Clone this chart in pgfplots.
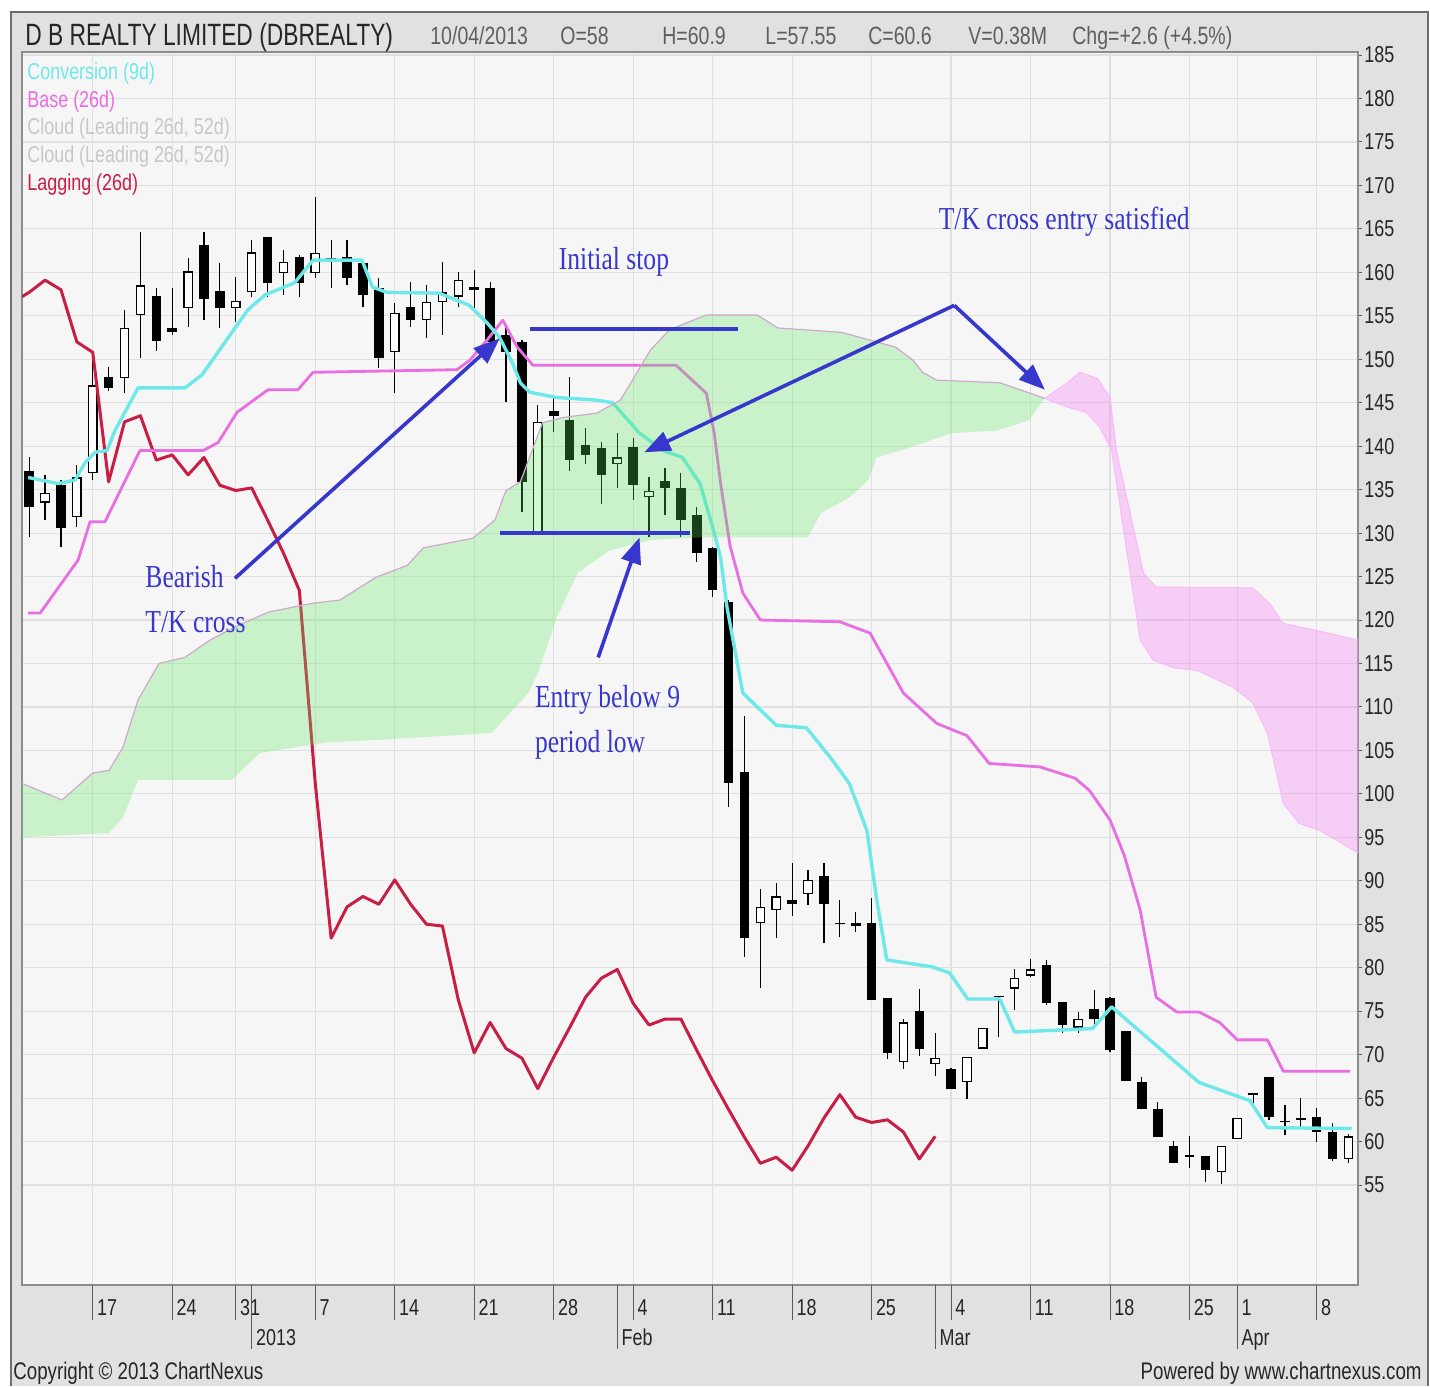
\documentclass[border=0pt]{standalone}
\usepackage{fontspec}
\setmainfont{Liberation Sans}[FakeStretch=0.78]
\newfontfamily\titlefont{Liberation Sans}[FakeStretch=0.74]
\newfontfamily\annfont{Liberation Serif}[FakeStretch=0.8]
\usepackage{pgfplots}
\pgfplotsset{compat=1.18}
\usetikzlibrary{arrows.meta}

\definecolor{panel}{RGB}{225,225,225}
\definecolor{panelline}{RGB}{110,110,110}
\definecolor{plotbg}{RGB}{246,246,246}
\definecolor{gridc}{RGB}{224,224,224}
\definecolor{tickc}{RGB}{90,90,90}
\definecolor{tenkan}{RGB}{110,232,232}
\definecolor{kijun}{RGB}{232,110,225}
\definecolor{lagc}{RGB}{200,30,70}
\definecolor{cloudg}{RGB}{90,235,90}
\definecolor{cloudp}{RGB}{245,100,245}
\definecolor{cloudedge}{RGB}{205,170,205}
\definecolor{annblue}{RGB}{55,55,205}
\definecolor{hdrgray}{RGB}{95,95,95}

\newcommand{\tf}{\fontsize{11.5}{13}\selectfont}

\begin{document}
\begin{tikzpicture}
\fill[white] (-11pt,-50.5pt) rectangle (704pt,642.5pt);
\fill[panel] (-5.5pt,-50.5pt) rectangle (703pt,636.5pt);
\draw[panelline, line width=1pt] (-5.5pt,-50.5pt) -- (-5.5pt,636.5pt) -- (703pt,636.5pt) -- (703pt,-50.5pt);

\begin{axis}[
  at={(0pt,0pt)}, anchor=south west,
  scale only axis, width=668pt, height=616.5pt,
  xmin=-4.45, xmax=79.6, ymin=43.5, ymax=185.35,
  axis background/.style={fill=plotbg},
  axis line style={draw=black!45, line width=0.8pt},
  xtick={0,5,9,14,19,24,29,34,39,44,49,54,59,64,69,72,77},
  xticklabels={},
  ytick={55,60,...,185},
  xtick pos=left, ytick pos=right,
  yticklabel pos=right,
  yticklabel style={font=\tf, text=black!85, inner sep=1pt},
  /pgf/number format/assume math mode=true,
  tick align=outside, major tick length=2pt,
  tick style={draw=tickc, line width=0.5pt},
  grid=major, grid style={draw=gridc, line width=0.6pt},
  clip mode=individual,
  unbounded coords=jump,
  after end axis/.code={
    \foreach \p/\l in {0/17,5/24,9/31,14/7,19/14,24/21,29/28,34/4,39/11,44/18,49/25,54/4,59/11,64/18,69/25,72/1,77/8}{
      \draw[tickc, line width=0.5pt] (axis cs:\p,43.5) -- ++(0pt,-17.5pt);
      \node[anchor=base west, inner sep=0pt, font=\tf, text=black!85] at ([xshift=2pt,yshift=-15pt]axis cs:\p,43.5) {\l};
    }
    \foreach \p/\l in {10/2013,33/Feb,53/Mar,72/Apr}{
      \draw[tickc, line width=0.5pt] (axis cs:\p,43.5) -- ++(0pt,-32pt);
      \node[anchor=base west, inner sep=0pt, font=\tf, text=black!85] at ([xshift=2pt,yshift=-30pt]axis cs:\p,43.5) {\l};
    }
  },
]

% wicks (low, high)
\addplot[black, line width=0.6pt] coordinates {
(-4,129.5)(-4,138.7)(-4,nan) (-3,131.5)(-3,136.7)(-3,nan) (-2,128.4)(-2,136.1)(-2,nan) (-1,130.7)(-1,137.8)(-1,nan)
(0,136.1)(0,150.1)(0,nan) (1,146.4)(1,149.1)(1,nan) (2,146.1)(2,155.7)(2,nan) (3,150.1)(3,164.6)(3,nan)
(4,151.0)(4,158.2)(4,nan) (5,152.8)(5,158.2)(5,nan) (6,153.7)(6,161.6)(6,nan) (7,154.5)(7,164.6)(7,nan)
(8,153.6)(8,161.1)(8,nan) (9,154.3)(9,159.5)(9,nan) (10,157.2)(10,163.7)(10,nan) (11,157.2)(11,164.1)(11,nan)
(12,157.4)(12,162.6)(12,nan) (13,157.2)(13,162.0)(13,nan) (14,159.3)(14,168.7)(14,nan) (15,158.2)(15,163.7)(15,nan)
(16,158.5)(16,163.7)(16,nan) (17,156.0)(17,161.1)(17,nan) (18,149.0)(18,159.3)(18,nan) (19,146.1)(19,156.5)(19,nan)
(20,153.7)(20,158.9)(20,nan) (21,152.5)(21,158.5)(21,nan) (22,152.8)(22,161.2)(22,nan) (23,156.0)(23,160.0)(23,nan)
(24,155.9)(24,160.3)(24,nan) (25,150.7)(25,158.9)(25,nan) (26,145.1)(26,153.9)(26,nan) (27,132.4)(27,152.2)(27,nan)
(28,130.0)(28,144.7)(28,nan) (29,141.6)(29,145.5)(29,nan) (30,137.2)(30,148.0)(30,nan) (31,138.0)(31,142.1)(31,nan)
(32,133.4)(32,140.5)(32,nan) (33,135.2)(33,141.5)(33,nan) (34,133.8)(34,140.9)(34,nan) (35,129.5)(35,136.4)(35,nan)
(36,132.1)(36,137.5)(36,nan) (37,129.5)(37,136.9)(37,nan) (38,126.7)(38,133.0)(38,nan) (39,122.6)(39,128.4)(39,nan)
(40,98.5)(40,122.3)(40,nan) (41,81.2)(41,109.0)(41,nan) (42,77.7)(42,89.1)(42,nan) (43,83.4)(43,89.8)(43,nan)
(44,86.0)(44,92.1)(44,nan) (45,87.2)(45,91.2)(45,nan) (46,82.8)(46,92.1)(46,nan) (47,83.5)(47,87.8)(47,nan)
(48,84.1)(48,86.4)(48,nan) (49,76.3)(49,88.0)(49,nan) (50,69.5)(50,76.5)(50,nan) (51,68.3)(51,74.1)(51,nan)
(52,69.9)(52,77.5)(52,nan) (53,67.5)(53,72.5)(53,nan) (54,66.0)(54,68.5)(54,nan) (55,64.9)(55,69.7)(55,nan)
(56,70.7)(56,73.1)(56,nan) (57,72.0)(57,76.8)(57,nan) (58,75.1)(58,79.9)(58,nan) (59,78.9)(59,81.0)(59,nan)
(60,75.7)(60,80.9)(60,nan) (61,72.5)(61,76.0)(61,nan) (62,72.5)(62,74.9)(62,nan) (63,73.4)(63,77.4)(63,nan)
(64,70.3)(64,76.6)(64,nan) (65,67.0)(65,72.7)(65,nan) (66,63.7)(66,67.4)(66,nan) (67,60.5)(67,64.6)(67,nan)
(68,57.5)(68,60.1)(68,nan) (69,57.0)(69,60.6)(69,nan) (70,55.3)(70,58.3)(70,nan) (71,55.1)(71,59.5)(71,nan)
(72,60.3)(72,62.7)(72,nan) (73,63.9)(73,65.6)(73,nan) (74,62.5)(74,67.4)(74,nan) (75,60.7)(75,64.2)(75,nan)
(76,61.7)(76,65.0)(76,nan) (77,60.0)(77,63.9)(77,nan) (78,57.8)(78,62.1)(78,nan) (79,57.55)(79,60.9)
};

% falling candles (open, close)
\addplot[black, line width=4.8pt] coordinates {
(-4,137.2)(-4,133.0)(-4,nan) (-2,135.5)(-2,130.6)(-2,nan) (1,148.0)(1,146.7)(1,nan) (4,157.3)(4,152.1)(4,nan)
(5,153.6)(5,153.1)(5,nan) (7,163.1)(7,156.9)(7,nan) (8,157.8)(8,155.9)(8,nan) (11,164.1)(11,158.8)(11,nan)
(13,161.8)(13,158.8)(13,nan) (16,161.8)(16,159.3)(16,nan) (17,161.1)(17,157.4)(17,nan) (18,158.2)(18,150.1)(18,nan)
(20,156.0)(20,154.5)(20,nan) (24,158.3)(24,158.0)(24,nan) (25,158.2)(25,152.0)(25,nan) (26,152.8)(26,150.8)(26,nan)
(27,152.0)(27,135.9)(27,nan) (29,144.1)(29,143.5)(29,nan) (30,143.0)(30,138.4)(30,nan) (31,140.1)(31,139.0)(31,nan)
(32,139.8)(32,136.7)(32,nan) (34,139.9)(34,135.5)(34,nan) (36,136.0)(36,135.2)(36,nan) (37,135.2)(37,131.5)(37,nan)
(38,132.1)(38,127.7)(38,nan) (39,128.3)(39,123.4)(39,nan) (40,122.1)(40,101.2)(40,nan) (41,102.5)(41,83.4)(41,nan)
(44,87.8)(44,87.3)(44,nan) (46,90.6)(46,87.3)(46,nan) (47,85.2)(47,85.0)(47,nan) (48,85.1)(48,84.8)(48,nan)
(49,85.1)(49,76.3)(49,nan) (50,76.5)(50,70.2)(50,nan) (52,75.0)(52,70.7)(52,nan) (54,68.3)(54,66.1)(54,nan)
(57,76.8)(57,76.6)(57,nan) (60,80.3)(60,75.9)(60,nan) (61,76.0)(61,73.4)(61,nan) (63,75.2)(63,74.1)(63,nan)
(64,76.5)(64,70.5)(64,nan) (65,72.7)(65,67.0)(65,nan) (66,66.8)(66,63.7)(66,nan) (67,63.8)(67,60.5)(67,nan)
(68,59.5)(68,57.5)(68,nan) (69,58.4)(69,58.2)(69,nan) (70,58.3)(70,56.7)(70,nan) (73,65.6)(73,65.4)(73,nan)
(74,67.4)(74,62.8)(74,nan) (75,62.4)(75,62.2)(75,nan) (76,62.7)(76,62.5)(76,nan) (77,62.8)(77,61.1)(77,nan)
(78,61.1)(78,58.0)
};

% rising candles: outline (open, close)
\addplot[black, line width=4.8pt] coordinates {
(-3,133.5)(-3,134.6)(-3,nan) (-1,131.8)(-1,136.4)(-1,nan) (0,136.9)(0,147.0)(0,nan) (2,147.8)(2,153.6)(2,nan)
(3,155.1)(3,158.5)(3,nan) (6,155.9)(6,160.1)(6,nan) (9,155.9)(9,156.7)(9,nan) (10,157.7)(10,162.3)(10,nan)
(12,159.9)(12,161.2)(12,nan) (14,159.9)(14,162.2)(14,nan) (15,161.2)(15,161.7)(15,nan) (19,150.8)(19,155.3)(19,nan)
(21,154.5)(21,156.6)(21,nan) (22,156.6)(22,157.7)(22,nan) (23,157.2)(23,159.1)(23,nan) (28,130.1)(28,142.8)(28,nan)
(33,137.9)(33,138.7)(33,nan) (35,134.1)(35,134.9)(35,nan) (42,85.1)(42,87.0)(42,nan) (43,86.6)(43,88.2)(43,nan)
(45,88.5)(45,90.1)(45,nan) (51,69.1)(51,73.7)(51,nan) (53,68.9)(53,69.6)(53,nan) (55,66.8)(55,69.7)(55,nan)
(56,70.7)(56,73.1)(56,nan) (58,77.6)(58,78.8)(58,nan) (59,79.1)(59,79.8)(59,nan) (62,73.1)(62,74.1)(62,nan)
(71,56.5)(71,59.5)(71,nan) (72,60.3)(72,62.7)(72,nan) (79,58.0)(79,60.6)
};
% rising candles: hollow inside
\addplot[white, line width=3.6pt] coordinates {
(-3,133.64)(-3,134.46)(-3,nan) (-1,131.94)(-1,136.26)(-1,nan) (0,137.04)(0,146.86)(0,nan) (2,147.94)(2,153.46)(2,nan)
(3,155.24)(3,158.36)(3,nan) (6,156.04)(6,159.96)(6,nan) (9,156.04)(9,156.56)(9,nan) (10,157.84)(10,162.16)(10,nan)
(12,160.04)(12,161.06)(12,nan) (14,160.04)(14,162.06)(14,nan) (15,161.34)(15,161.56)(15,nan) (19,150.94)(19,155.16)(19,nan)
(21,154.64)(21,156.46)(21,nan) (22,156.74)(22,157.56)(22,nan) (23,157.34)(23,158.96)(23,nan) (28,130.24)(28,142.66)(28,nan)
(33,138.04)(33,138.56)(33,nan) (35,134.24)(35,134.76)(35,nan) (42,85.24)(42,86.86)(42,nan) (43,86.74)(43,88.06)(43,nan)
(45,88.64)(45,89.96)(45,nan) (51,69.24)(51,73.56)(51,nan) (53,69.04)(53,69.46)(53,nan) (55,66.94)(55,69.56)(55,nan)
(56,70.84)(56,72.96)(56,nan) (58,77.74)(58,78.66)(58,nan) (59,79.24)(59,79.66)(59,nan) (62,73.24)(62,73.96)(62,nan)
(71,56.64)(71,59.36)(71,nan) (72,60.44)(72,62.56)(72,nan) (79,58.14)(79,60.46)
};

% lagging (26d)
\addplot[lagc, line width=1.5pt, line join=round] coordinates {
(-4.45,157.2)(-4,157.7)(-3,159.1)(-2,158.0)(-1,152.0)(0,150.8)(1,135.9)(2,142.8)(3,143.5)(4,138.4)(5,139.0)
(6,136.7)(7,138.7)(8,135.5)(9,134.9)(10,135.2)(11,131.5)(12,127.7)(13,123.4)(14,101.2)(15,83.4)(16,87.0)
(17,88.2)(18,87.3)(19,90.1)(20,87.3)(21,85.0)(22,84.8)(23,76.3)(24,70.2)(25,73.7)(26,70.7)(27,69.6)(28,66.1)
(29,69.7)(30,73.1)(31,76.6)(32,78.8)(33,79.8)(34,75.9)(35,73.4)(36,74.1)(37,74.1)(38,70.5)(39,67.0)(40,63.7)
(41,60.5)(42,57.5)(43,58.2)(44,56.7)(45,59.5)(46,62.7)(47,65.4)(48,62.8)(49,62.2)(50,62.5)(51,61.1)(52,58.0)(53,60.6)
};

% base (26d)
\addplot[kijun, line width=1.4pt, line join=round] coordinates {
(-4.07,120.8)(-3.31,120.8)(-0.92,126.9)(-0.17,131.3)(0.77,131.3)(2.97,139.5)(6.94,139.5)(7.88,140.4)(9.08,143.9)
(11.03,146.5)(12.91,146.5)(13.86,148.5)(22.91,148.8)(23.73,149.9)(24.8,152.2)(25.8,154.5)(26.7,151.4)(27.7,149.3)
(36.7,149.3)(38.6,146.1)(39.1,141.5)(39.5,135.7)(40.1,128.5)(40.9,123.1)(42.0,120.0)(47.0,119.8)(48.9,118.5)
(51.0,111.6)(53.1,108.1)(55.0,106.7)(56.4,103.5)(59.6,103.1)(61.8,101.8)(62.7,100.4)(64.0,97.0)(64.9,92.9)
(65.9,86.6)(66.9,76.6)(68.2,74.9)(69.6,74.9)(70.9,73.7)(72.0,71.7)(73.9,71.7)(74.9,68.1)(79.1,68.1)
};

% conversion (9d)
\addplot[tenkan, line width=1.7pt, line join=round] coordinates {
(-4.07,136.4)(-2.18,135.7)(-1.11,136.1)(-0.48,138.1)(0.14,139.3)(0.90,139.5)(1.40,141.8)(2.85,146.7)(5.8,146.7)
(6.87,148.2)(9.77,155.7)(10.84,157.4)(12.7,158.8)(13.86,161.4)(16.94,161.4)(17.6,158.3)(18.5,157.7)(21.8,157.6)
(23.7,156.2)(24.8,154.2)(25.6,152.5)(26.4,149.6)(26.9,147.3)(27.5,146.2)(29.2,145.6)(31.7,145.3)(32.7,145.0)
(34.4,141.5)(35.9,139.5)(37.1,138.7)(38.2,135.7)(39.0,130.7)(39.5,127.2)(39.9,121.5)(40.9,111.6)(43.0,107.9)
(44.9,107.6)(46.4,104.2)(47.6,101.2)(48.7,95.8)(49.3,88.1)(49.95,80.9)(52.8,80.1)(53.9,79.4)(55.05,76.4)
(57.06,76.4)(58.0,72.6)(62.9,73.0)(64.1,75.5)(66.5,71.7)(69.6,66.8)(72.8,64.7)(73.9,61.6)(79.2,61.5)
};

% cloud, green part (leading span A above span B)
\addplot[fill=cloudg, fill opacity=0.28, draw=none] coordinates {
(-4.45,101.2)(-1.93,99.3)(0,102.4)(1.03,102.7)(1.91,105.4)(2.85,110.8)(4.17,115.0)(5.8,115.7)(7.38,117.7)
(8.95,119.2)(11.03,120.9)(13.73,121.9)(15.55,122.3)(17.8,124.9)(19.8,126.3)(20.8,128.3)(23.9,129.4)(25.3,131.5)
(26.0,134.9)(26.9,135.9)(28.3,142.7)(29.6,143.3)(31.7,143.8)(33.2,145.3)(35.1,151.1)(36.3,153.4)(38.6,155.1)
(41.8,155.1)(43.1,153.6)(47.1,153.1)(50.5,151.4)(51.6,149.9)(52.2,148.5)(53.1,147.6)(57.06,147.3)(59.9,145.5)
(58.9,143.0)(56.9,141.8)(54.0,141.5)(51.5,139.9)(49.3,138.7)(48.8,136.1)(47.6,134.1)(45.8,132.3)(45.0,129.5)
(38.2,129.5)(35.05,129.2)(32.5,128.0)(30.5,125.4)(29.2,120.3)(28.0,113.9)(27.4,111.6)(25.1,107.0)(17.8,106.2)
(14.6,105.9)(10.52,104.7)(8.76,101.6)(2.85,101.6)(1.91,97.3)(1.03,95.5)(-4.45,95.0)
};
\addplot[cloudedge, line width=0.6pt] coordinates {
(-4.45,101.2)(-1.93,99.3)(0,102.4)(1.03,102.7)(1.91,105.4)(2.85,110.8)(4.17,115.0)(5.8,115.7)(7.38,117.7)
(8.95,119.2)(11.03,120.9)(13.73,121.9)(15.55,122.3)(17.8,124.9)(19.8,126.3)(20.8,128.3)(23.9,129.4)(25.3,131.5)
(26.0,134.9)(26.9,135.9)(28.3,142.7)(29.6,143.3)(31.7,143.8)(33.2,145.3)(35.1,151.1)(36.3,153.4)(38.6,155.1)
(41.8,155.1)(43.1,153.6)(47.1,153.1)(50.5,151.4)(51.6,149.9)(52.2,148.5)(53.1,147.6)(57.06,147.3)(59.9,145.5)
};
% cloud, pink part (span B above span A)
\addplot[fill=cloudp, fill opacity=0.28, draw=cloudp!45, line width=0.5pt] coordinates {
(59.9,145.5)(61.3,147.3)(62.1,148.5)(63.2,147.8)(64.0,145.6)(64.4,139.5)(66.1,125.4)(66.9,123.8)(72.97,123.7)
(74.04,121.9)(74.9,119.6)(77.0,118.8)(79.6,117.7)
(79.6,93.2)(77.2,95.8)(75.9,96.6)(74.9,98.9)(73.9,107.0)(72.97,110.5)(71.7,112.3)(69.5,114.2)(68.0,114.5)
(66.7,115.4)(65.9,117.7)(64.1,139.5)(63.35,142.2)(62.5,143.9)(61.3,144.5)(59.9,145.5)
};

% annotations
\draw[annblue, line width=2pt] (axis cs:27.5,153.5) -- (axis cs:40.6,153.5);
\draw[annblue, line width=2pt] (axis cs:25.6,130.0) -- (axis cs:37.6,130.0);
\draw[annblue, line width=1.8pt, -{Triangle[length=13pt,width=10pt]}] (axis cs:8.95,124.8) -- (axis cs:25.6,152.4);
\draw[annblue, line width=1.8pt, -{Triangle[length=13pt,width=10pt]}] (axis cs:31.8,115.7) -- (axis cs:34.4,129.5);
\draw[annblue, line width=1.8pt, -{Triangle[length=13pt,width=10pt]}] (axis cs:54.2,156.2) -- (axis cs:34.7,139.3);
\draw[annblue, line width=1.8pt, -{Triangle[length=13pt,width=10pt]}] (axis cs:54.2,156.2) -- (axis cs:59.9,146.5);
\node[anchor=base west, inner sep=0pt, text=annblue, font=\annfont\fontsize{16}{18}\selectfont] at (axis cs:29.3,160.3) {Initial stop};
\node[anchor=base west, inner sep=0pt, text=annblue, font=\annfont\fontsize{16}{18}\selectfont] at (axis cs:53.2,164.9) {T/K cross entry satisfied};
\node[anchor=base west, inner sep=0pt, text=annblue, font=\annfont\fontsize{16}{18}\selectfont] at (axis cs:3.29,123.7) {Bearish};
\node[anchor=base west, inner sep=0pt, text=annblue, font=\annfont\fontsize{16}{18}\selectfont] at (axis cs:3.29,118.6) {T/K cross};
\node[anchor=base west, inner sep=0pt, text=annblue, font=\annfont\fontsize{16}{18}\selectfont] at (axis cs:27.8,109.9) {Entry below 9};
\node[anchor=base west, inner sep=0pt, text=annblue, font=\annfont\fontsize{16}{18}\selectfont] at (axis cs:27.8,104.8) {period low};
\end{axis}

% header
\node[anchor=base west, inner sep=0pt, text=black!85, font=\titlefont\fontsize{15.4}{17}\selectfont] at (1.5pt,619.5pt) {D B REALTY LIMITED (DBREALTY)};
\begin{scope}[every node/.style={anchor=base west, inner sep=0pt, text=hdrgray, font=\fontsize{12.5}{14}\selectfont}]
\node at (204pt,620pt) {10/04/2013};
\node at (269pt,620pt) {O=58};
\node at (320pt,620pt) {H=60.9};
\node at (371.5pt,620pt) {L=57.55};
\node at (423pt,620pt) {C=60.6};
\node at (473pt,620pt) {V=0.38M};
\node at (525pt,620pt) {Chg=+2.6 (+4.5\%)};
\end{scope}

% legend
\begin{scope}[every node/.style={anchor=base west, inner sep=0pt, font=\fontsize{11.5}{13}\selectfont}]
\node[text=tenkan] at (2.5pt,602.5pt) {Conversion (9d)};
\node[text=kijun] at (2.5pt,588.5pt) {Base (26d)};
\node[text=black!22] at (2.5pt,575pt) {Cloud (Leading 26d, 52d)};
\node[text=black!22] at (2.5pt,561pt) {Cloud (Leading 26d, 52d)};
\node[text=lagc] at (2.5pt,547pt) {Lagging (26d)};
\end{scope}

% footer
\node[anchor=base west, inner sep=0pt, text=black!85, font=\fontsize{12}{14}\selectfont] at (-4.5pt,-47pt) {Copyright © 2013 ChartNexus};
\node[anchor=base east, inner sep=0pt, text=black!85, font=\fontsize{12}{14}\selectfont] at (700pt,-47pt) {Powered by www.chartnexus.com};
\end{tikzpicture}
\end{document}
